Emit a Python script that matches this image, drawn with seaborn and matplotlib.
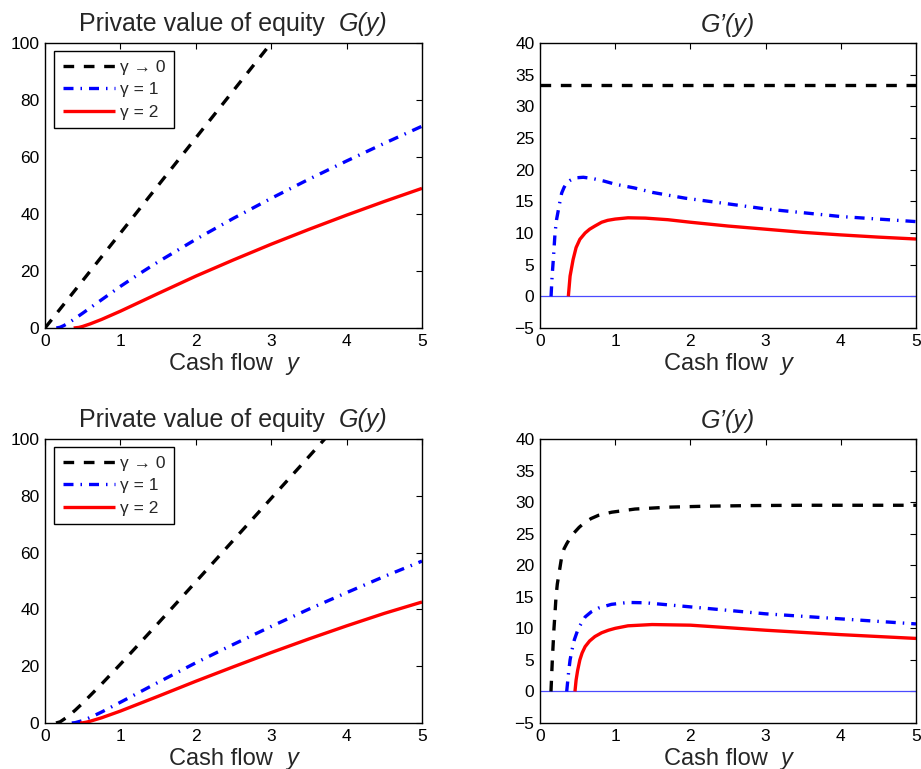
import matplotlib
matplotlib.use('Agg')
import matplotlib.pyplot as plt
from matplotlib.transforms import ScaledTranslation
import seaborn as sns

# ---- top row: G(y) ----
top_g0_x = [0, 1, 2, 3, 4, 5]
top_g0_y = [0, 33.3, 66.7, 100, 133.3, 166.7]
top_g1_x = [0.15, 0.2, 0.25, 0.3, 0.35, 0.4, 0.5, 0.6, 0.75, 1.0, 1.25, 1.5, 2.0, 2.5, 3.0, 3.5, 4.0, 4.5, 5.0]
top_g1_y = [0, 0.25, 0.85, 1.6, 2.45, 3.35, 5.2, 7.1, 9.9, 14.6, 19.0, 23.2, 31.1, 38.5, 45.5, 52.2, 58.6, 64.8, 70.8]
top_g2_x = [0.38, 0.45, 0.5, 0.6, 0.75, 1.0, 1.25, 1.5, 2.0, 2.5, 3.0, 3.5, 4.0, 4.5, 5.0]
top_g2_y = [0, 0.2, 0.55, 1.45, 3.0, 5.9, 9.0, 12.1, 18.2, 23.9, 29.4, 34.6, 39.6, 44.4, 49.0]

# ---- top row: G'(y) ----
top_d0_x = [0, 1, 2, 3, 4, 5]
top_d0_y = [33.3, 33.3, 33.3, 33.3, 33.3, 33.3]
top_d1_x = [0.147, 0.16, 0.177, 0.2, 0.22, 0.25, 0.266, 0.288, 0.32, 0.355, 0.4, 0.465, 0.576, 0.7, 0.85,
            1.0, 1.26, 1.5, 1.93, 2.5, 3.0, 3.5, 4.0, 4.5, 5.0]
top_d1_y = [0, 3, 5.8, 10, 12.1, 14, 15, 16.3, 17.2, 17.9, 18.3, 18.7, 18.8, 18.6, 18.2,
            17.7, 17.1, 16.4, 15.5, 14.6, 13.8, 13.2, 12.6, 12.2, 11.8]
top_d2_x = [0.377, 0.4, 0.44, 0.48, 0.53, 0.6, 0.66, 0.73, 0.82, 0.9, 1.0, 1.17, 1.4, 1.7, 2.0,
            2.5, 3.0, 3.5, 4.0, 4.5, 5.0]
top_d2_y = [0, 3.2, 5.8, 7.7, 9.0, 10.0, 10.6, 11.1, 11.7, 12.0, 12.2, 12.4, 12.35, 12.1, 11.7,
            11.1, 10.6, 10.1, 9.7, 9.35, 9.05]

# ---- bottom row: G(y) ----
bot_g0_x = [0.146, 0.2, 0.3, 0.4, 0.5, 0.75, 1.0, 1.5, 2.0, 2.5, 3.0, 3.5, 4.0, 5.0]
bot_g0_y = [0, 0.4, 2.2, 4.5, 7.0, 13.7, 20.7, 35.1, 49.7, 64.4, 79.1, 93.8, 108.6, 138.1]
bot_g1_x = [0.355, 0.4, 0.5, 0.6, 0.75, 1.0, 1.5, 2.0, 2.5, 3.0, 3.5, 4.0, 4.5, 5.0]
bot_g1_y = [0, 0.12, 0.85, 1.95, 3.85, 7.3, 14.3, 21.2, 27.7, 34.0, 40.1, 45.9, 51.6, 57.0]
bot_g2_x = [0.465, 0.5, 0.55, 0.6, 0.75, 1.0, 1.5, 2.0, 2.5, 3.0, 3.5, 4.0, 4.5, 5.0]
bot_g2_y = [0, 0.06, 0.3, 0.63, 1.83, 4.2, 9.4, 14.7, 19.8, 24.8, 29.6, 34.2, 38.6, 42.6]

# ---- bottom row: G'(y) ----
bot_d0_x = [0.146, 0.155, 0.164, 0.175, 0.186, 0.2, 0.213, 0.23, 0.253, 0.288, 0.32, 0.355, 0.4,
            0.443, 0.52, 0.598, 0.68, 0.776, 0.953, 1.263, 1.706, 2.2, 2.8, 3.5, 4.2, 5.0]
bot_d0_y = [0, 2.5, 5, 7.5, 10, 12.5, 15, 17, 18.7, 21.3, 22.6, 23.4, 24.3,
            25, 26, 26.8, 27.4, 27.9, 28.4, 28.9, 29.2, 29.35, 29.45, 29.5, 29.5, 29.5]
bot_d1_x = [0.355, 0.38, 0.4, 0.43, 0.457, 0.51, 0.6, 0.68, 0.776, 0.95, 1.17, 1.4, 2.0, 2.5,
            3.0, 3.5, 4.0, 4.5, 5.0]
bot_d1_y = [0, 3, 5, 6.8, 8.2, 10, 11.8, 12.6, 13.2, 13.8, 14.1, 14.05, 13.4, 12.85,
            12.3, 11.9, 11.5, 11.1, 10.7]
bot_d2_x = [0.465, 0.48, 0.5, 0.53, 0.56, 0.6, 0.66, 0.73, 0.82, 0.91, 1.0, 1.17, 1.49, 2.0,
            2.5, 3.0, 3.5, 4.0, 4.5, 5.0]
bot_d2_y = [0, 1.8, 3.3, 5, 6.1, 7.1, 8.0, 8.7, 9.3, 9.7, 10.0, 10.4, 10.6, 10.5,
            10.1, 9.7, 9.35, 9.0, 8.7, 8.4]

labels = ['\u03b3 \u2192 0', '\u03b3 = 1', '\u03b3 = 2']
colors = ['black', 'blue', 'red']
dash_styles = [(3.2, 2.9), (3.0, 2.1, 0.45, 2.1), None]

left_ticks = [0, 20, 40, 60, 80, 100]
right_ticks = [-5, 0, 5, 10, 15, 20, 25, 30, 35, 40]
x_ticks = [0, 1, 2, 3, 4, 5]

TITLE_FS = 18
XLAB_FS = 17
TICK_FS = 12.5
LEG_FS = 12.5

sns.set_style('white')
plt.rcParams['font.family'] = ['Liberation Sans', 'DejaVu Sans']

fig = plt.figure(figsize=(9.21, 7.69), dpi=100)

W, H = 921.0, 769.0
def add_axes(l, t, r, b):
    return fig.add_axes([l / W, 1 - b / H, (r - l) / W, (b - t) / H])

ax_tl = add_axes(45, 43, 422, 328)
ax_tr = add_axes(540, 43, 916, 328)
ax_bl = add_axes(45, 439, 422, 723)
ax_br = add_axes(540, 439, 916, 723)


def draw(ax, series, with_labels):
    for i, (xs, ys) in enumerate(series):
        sns.lineplot(x=xs, y=ys, ax=ax, color=colors[i], lw=2.4,
                     label=labels[i] if with_labels else None, legend=False)
        line = ax.lines[-1]
        if dash_styles[i] is not None:
            line.set_dashes(dash_styles[i])
        line.set_solid_capstyle('butt')
        line.set_dash_capstyle('butt')


def mixed_text(ax, plain, italic, y_pt, fs):
    # plain + italic text on one baseline, centred on the axes
    trans = ax.transAxes + ScaledTranslation(0, y_pt / 72.0, fig.dpi_scale_trans)
    y0 = 1.0 if y_pt > 0 else 0.0
    t1 = ax.text(0.5, y0, plain, fontsize=fs, ha='left', va='baseline', transform=trans)
    t2 = ax.text(0.5, y0, italic, fontsize=fs, ha='left', va='baseline',
                 style='italic', transform=trans)
    fig.canvas.draw()
    r = fig.canvas.get_renderer()
    w1 = t1.get_window_extent(r).width
    w2 = t2.get_window_extent(r).width
    gap = fs * 0.55 * fig.dpi / 72.0
    total = w1 + gap + w2
    ax_w = ax.get_window_extent(r).width
    x0 = 0.5 - total / 2 / ax_w
    t1.set_x(x0)
    t2.set_x(x0 + (w1 + gap) / ax_w)


def style(ax, ticks, ylim):
    ax.set_xlim(0, 5)
    ax.set_ylim(*ylim)
    ax.set_xticks(x_ticks)
    ax.set_yticks(ticks)
    ax.tick_params(direction='in', top=True, right=True, length=4, width=0.8,
                   labelsize=TICK_FS, color='black', labelcolor='black')
    ax.tick_params(axis='x', pad=4)
    ax.tick_params(axis='y', pad=4)
    for s in ax.spines.values():
        s.set_color('black')
        s.set_linewidth(1.0)
    ax.set_xlabel('')
    ax.set_ylabel('')


draw(ax_tl, [(top_g0_x, top_g0_y), (top_g1_x, top_g1_y), (top_g2_x, top_g2_y)], True)
draw(ax_bl, [(bot_g0_x, bot_g0_y), (bot_g1_x, bot_g1_y), (bot_g2_x, bot_g2_y)], True)
for ax in (ax_tr, ax_br):
    ax.axhline(0, color='#4a4aff', lw=0.9, zorder=1)
draw(ax_tr, [(top_d0_x, top_d0_y), (top_d1_x, top_d1_y), (top_d2_x, top_d2_y)], False)
draw(ax_br, [(bot_d0_x, bot_d0_y), (bot_d1_x, bot_d1_y), (bot_d2_x, bot_d2_y)], False)

for ax in (ax_tl, ax_bl):
    style(ax, left_ticks, (0, 100))
    leg = ax.legend(loc='upper left', bbox_to_anchor=(0.024, 0.972), borderaxespad=0,
                    fontsize=LEG_FS, handlelength=3.0, handletextpad=0.3, labelspacing=0.42,
                    borderpad=0.5, fancybox=False, framealpha=1, edgecolor='black')
    leg.get_frame().set_linewidth(1.0)
for ax in (ax_tr, ax_br):
    style(ax, right_ticks, (-5, 40))
    ax.set_title('G\u2019(y)', fontsize=TITLE_FS, pad=8, fontstyle='italic')

for ax in (ax_tl, ax_bl):
    mixed_text(ax, 'Private value of equity', 'G(y)', 8.5, TITLE_FS)
for ax in (ax_tl, ax_tr, ax_bl, ax_br):
    mixed_text(ax, 'Cash flow', 'y', -30.5, XLAB_FS)

fig.savefig('out.png', dpi=100)
